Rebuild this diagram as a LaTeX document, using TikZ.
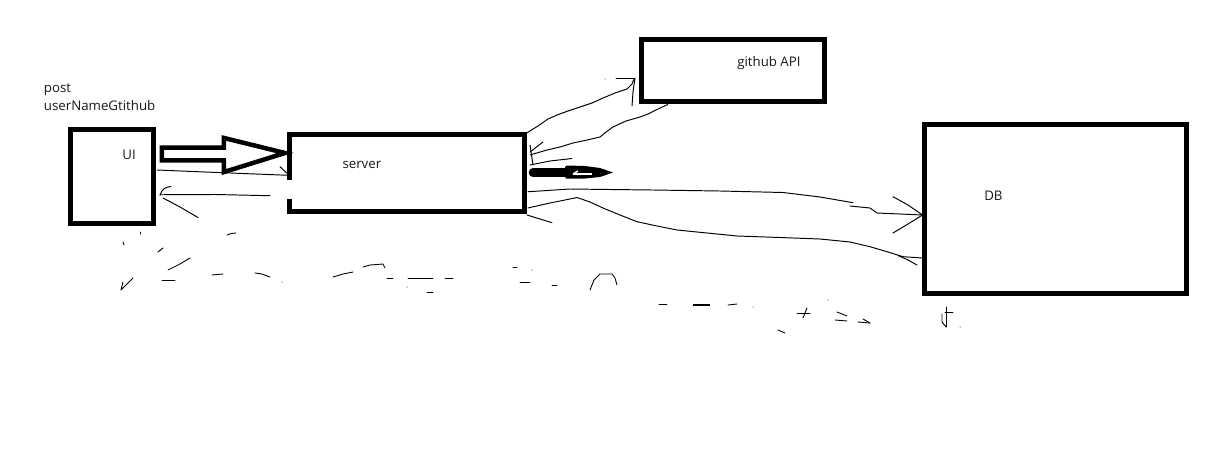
\documentclass[tikz,border=0pt]{standalone}
\usepackage{fontspec}
\setmainfont{Open Sans}
\usetikzlibrary{calc}
\tikzset{
  boxnode/.style={rectangle, inner sep=0pt, outer sep=0pt, line width=1mm, miter limit=10, line join=miter},
  boxline/.style={line width=1mm, line join=miter, line cap=rect},
  label/.style={anchor=base west, inner sep=0pt, outer sep=0pt, font=\fontsize{7.55pt}{9pt}\selectfont, text=black!90},
  hand/.style={line width=0.55pt, line cap=round, line join=round},
  scrib/.style={line width=0.5pt, line cap=round, line join=round},
  hollow/.style={line width=0.9mm, line join=miter, miter limit=10},
}
\begin{document}
\begin{tikzpicture}[x=0.02cm, y=-0.02cm]
\useasboundingbox[fill=white] (0,0) rectangle (1205,460);

% boxes
\node[boxnode, draw, minimum width=1.68cm, minimum height=1.89cm] (ui) at (112,176.25) {};
\node[boxnode, minimum width=4.72cm, minimum height=1.55cm] (server) at (407,172.75) {};
\draw[boxline] ($(server.north west)+(0,43)$) -- (server.north west) -- (server.north east) -- (server.south east) -- (server.south west) -- ++(0,-9.5);
\node[boxnode, draw, minimum width=3.656cm, minimum height=1.25cm] (github) at (733.1,70.25) {};
\node[boxnode, draw, minimum width=5.25cm, minimum height=3.4cm] (db) at (1055.75,209) {};

% labels
\node[label] (post) at (44,92.7) {post};
\node[label] (user) at (44,110) {userNameGtithub};
\node[label] (uitext) at (122.5,159.3) {UI};
\node[label] (servertext) at (342.5,168.3) {server};
\node[label] (gittext) at (737.3,66.7) {github API};
\node[label] (dbtext) at (984.3,200) {DB};

% big hollow arrow UI -> server
\draw[hollow] ($(ui.east)+(8,-28.75)$) -- ++(62,0) -- ++(0,-9.5) -- ($(server.west)+(-4,-19.75)$)
  -- ($(ui.east)+(70,-4.25)$) -- ++(0,-11.75) -- ++(-62,0) -- cycle;

% thin arrow UI -> server
\draw[hand] ($(ui.east)+(3,-6.25)$) -- (200,171.8) -- ($(server.west)+(-2,2.5)$);
\draw[hand] (280,166.7) -- ($(server.west)+(-2,0.5)$);
% thin arrow server -> UI
\draw[hand] (270,195.7) -- (215,194.5) -- ($(ui.east)+(6,18.5)$);
\draw[hand] ($(ui.east)+(6,19)$) .. controls (162,189) and (165,187) .. (171,186.5);
\draw[hand] (163,198) -- (180,207) -- (198,217.5);

% server -> github API (upper wavy line)
\draw[hand] (server.north east) -- (538,126) -- (548,119) -- (557,115) -- (568,111) -- (580,107)
  -- (592,103) -- (603,98) -- (615,93) -- (627,89) -- (632,84) -- (634,79);
\draw[hand] (616,78) -- (635,78);
\draw[hand] (635,78) -- (633,92) -- (632,106);
\fill (605,79) circle (0.5);

% github API -> server (lower wavy line)
\draw[hand] ($(github.south west)+(26,3)$) -- (656,110) -- (648,114) -- (640,117) -- (626,121) -- (613,127)
  -- (606,132) -- (600,137) -- (587,140) -- (573,143) -- (560,147) -- (547,150) -- (530,155);
\draw[hand] (530,152) -- (543,142);
\draw[hand] (530,145) -- (533,165);
\draw[hand] (530,165) -- (550,161) -- (572,158.5);

% dark short arrow
\draw[line width=9pt*0.55, line cap=round] (533,172.5) -- (572,172.5);
\fill (566,165.5) -- (585,166) -- (600,168) -- (613,172.5) -- (600,177) -- (585,178.5) -- (566,178.5) -- (563,172) -- cycle;
\draw[white, line width=0.8pt] (573,174) -- (592,174);
\draw[white, line width=0.8pt] (573,174) -- (578,171);

% server -> DB (line A)
\draw[hand] ($(server.east)+(3,19)$) -- (570,189) -- (610,189.5) -- (653,190) -- (720,191) -- (783,192.5)
  -- (820,197) -- (853,202.7);
\draw[hand] (850,206) -- (870,208) -- (877,213) -- (900,214) -- ($(db.west)+(-2,6)$);
\draw[hand] (893,196.7) -- (908,205) -- ($(db.west)+(-2,6)$);
\draw[hand] (893,233) -- (908,224) -- ($(db.west)+(-2,6)$);

% DB -> server (line B)
\draw[hand] ($(server.south east)+(3,-3.5)$) -- (550,203) -- (565,200) -- (577,197.5) -- (590,202)
  -- (603,208) -- (620,215) -- (637,221.7) -- (657,226) -- (677,230) -- (707,233) -- (737,236)
  -- (780,237.5) -- (820,239) -- (850,242) -- (870,246.7) -- (888,252) -- (903,256.7) -- ($(db.west)+(-2,49)$);
\draw[hand] ($(server.south east)+(2,3.5)$) -- (540,219) -- (552,222.7);
\draw[hand] (898,255.5) -- (908,260) -- (917,265);

% faint scribbles at the bottom
\draw[scrib] (123,242) -- (124,245);
\draw[scrib] (140,232) -- (140,234);
\draw[scrib] (123,282) -- (121,290) -- (133,278);
\draw[scrib] (158,252) -- (163,248);
\draw[scrib] (162,280) -- (175,280);
\draw[scrib] (168,270) -- (180,264) -- (190,258);
\draw[scrib] (212,275) -- (223,274);
\draw[scrib] (227,235) -- (231,233.5) -- (236,233);
\draw[scrib] (255,273) -- (262,274) -- (270,277);
\fill (282,282) circle (0.5);
\draw[scrib] (333,277) -- (343,274) -- (353,272);
\draw[scrib] (363,267) -- (370,265) -- (383,264) -- (385,268);
\draw[scrib] (387,278) -- (393,278);
\fill (407,287) circle (0.5);
\draw[scrib] (408,278) -- (433,278);
\draw[scrib] (427,292) -- (433,292);
\draw[scrib] (445,278) -- (453,278);
\draw[scrib] (513,267) -- (517,267);
\fill (532,270) circle (0.5);
\draw[scrib] (520,282) -- (530,282);
\draw[scrib] (552,285) -- (557,285);
\draw[scrib] (590,290) -- (594,280) -- (600,274) -- (612,274) -- (615,278) -- (617,285);
\draw[scrib] (659,304) -- (667,304);
\draw[line width=1.1pt] (693,305) -- (710,305);
\draw[scrib] (728,305) -- (737,304);
\fill (753,307) circle (0.5);
\draw[scrib] (778,330) -- (785,333);
\draw[scrib] (797,313) -- (810,313);
\draw[scrib] (807,308) -- (803,318);
\fill (828,300) circle (0.5);
\draw[scrib] (837,312) -- (847,316);
\draw[scrib] (835,320) -- (847,321);
\draw[scrib] (858,322) -- (870,323);
\draw[scrib] (863,319) -- (870,323);
\draw[scrib] (946,307) -- (946,327);
\draw[scrib] (945,312) -- (953,312);
\draw[scrib] (942,314) -- (942,322) -- (946,327);
\fill (960,327) circle (0.5);
\end{tikzpicture}
\end{document}
